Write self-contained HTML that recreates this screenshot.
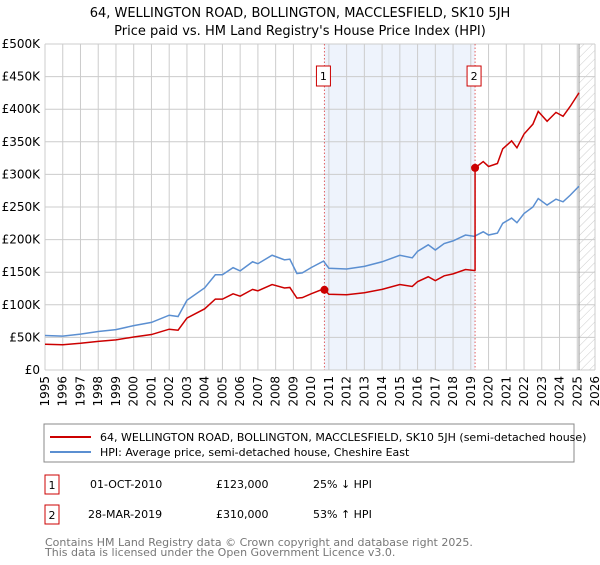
<!DOCTYPE html>
<html><head><meta charset="utf-8"><style>
body{margin:0;width:600px;height:560px;background:#fff;font-family:"Liberation Sans","DejaVu Sans",sans-serif;overflow:hidden}
svg text{font-family:"DejaVu Sans","Liberation Sans",sans-serif}
</style></head><body>
<svg id="c" width="600" height="560">
<defs><pattern id="hatch" width="6" height="6" patternUnits="userSpaceOnUse" patternTransform="rotate(45)"><line x1="0" y1="0" x2="0" y2="6" stroke="#ccc" stroke-width="1"/></pattern></defs>
<text x="300" y="17" text-anchor="middle" font-size="13">64, WELLINGTON ROAD, BOLLINGTON, MACCLESFIELD, SK10 5JH</text>
<text x="300" y="35" text-anchor="middle" font-size="13">Price paid vs. HM Land Registry's House Price Index (HPI)</text>
<g id="grid"></g><g id="marks"></g><g id="axes"></g>
<rect x="44" y="424" width="530" height="38" fill="#fff" stroke="#888"/>
<line x1="50" y1="437" x2="91" y2="437" stroke="#cc0000" stroke-width="2"/>
<text x="100" y="441" font-size="11">64, WELLINGTON ROAD, BOLLINGTON, MACCLESFIELD, SK10 5JH (semi-detached house)</text>
<line x1="50" y1="452" x2="91" y2="452" stroke="#5b8fd1" stroke-width="2"/>
<text x="100" y="456" font-size="11">HPI: Average price, semi-detached house, Cheshire East</text>
<g font-size="11">
<rect x="45" y="475" width="14" height="19" fill="#fff" stroke="#cc0000"/>
<text x="52" y="489" text-anchor="middle">1</text>
<text x="90" y="488">01-OCT-2010</text>
<text x="216" y="488">£123,000</text>
<text x="313" y="488">25% ↓ HPI</text>
<rect x="45" y="505" width="14" height="19" fill="#fff" stroke="#cc0000"/>
<text x="52" y="519" text-anchor="middle">2</text>
<text x="88" y="518">28-MAR-2019</text>
<text x="216" y="518">£310,000</text>
<text x="313" y="518">53% ↑ HPI</text>
</g>
<text x="45" y="546" font-size="11" fill="#777">Contains HM Land Registry data © Crown copyright and database right 2025.</text>
<text x="45" y="556" font-size="11" fill="#777">This data is licensed under the Open Government Licence v3.0.</text>
</svg>
<script>
const hpiYears=[1995,1996,1997,1998,1999,2000,2001,2002,2002.5,2003,2004,2004.6,2005,2005.6,2006,2006.7,2007,2007.8,2008.5,2008.8,2009.2,2009.5,2010,2010.7,2011,2012,2013,2014,2015,2015.7,2016,2016.6,2017,2017.5,2018,2018.7,2019.2,2019.7,2020,2020.5,2020.8,2021.3,2021.6,2022,2022.5,2022.8,2023.3,2023.8,2024.2,2024.6,2025.1];
const hpiValues=[53,52,55,59,62,68,73,84,82,107,126,146,146,157,152,166,163,176,169,170,148,149,157,167,156,155,159,166,176,172,182,192,184,194,198,207,205,212,207,210,225,233,226,240,250,263,253,262,258,268,282];
const saleYears=[2010.75,2019.24];
const salePrices=[123,310];
const saleLabels=["1","2"];
const yTicks=[0,50,100,150,200,250,300,350,400,450,500];
const yTickLabels=["£0","£50K","£100K","£150K","£200K","£250K","£300K","£350K","£400K","£450K","£500K"];
const xTicks=[1995,1996,1997,1998,1999,2000,2001,2002,2003,2004,2005,2006,2007,2008,2009,2010,2011,2012,2013,2014,2015,2016,2017,2018,2019,2020,2021,2022,2023,2024,2025,2026];
const L=45,R=595,T=44,B=370,x0=1995,x1=2026,ymax=500;
const X=v=>L+(v-x0)/(x1-x0)*(R-L), Y=v=>B-v/ymax*(B-T);
const NS="http://www.w3.org/2000/svg";
function mk(p,t,a){const e=document.createElementNS(NS,t);for(const k in a)e.setAttribute(k,a[k]);p.appendChild(e);return e;}
const grid=document.getElementById('grid'),marks=document.getElementById('marks'),axes=document.getElementById('axes');
// shaded region between sales
let sh=mk(grid,'rect',{x:X(saleYears[0]),y:T,width:X(saleYears[1])-X(saleYears[0]),height:B-T,fill:'#eef3fc'});


let hz=mk(grid,'rect',{x:X(2025.1),y:T,width:R-X(2025.1),height:B-T,fill:'url(#hatch)'});


yTicks.forEach((v,i)=>{
 let g=mk(grid,'line',{x1:L,x2:R,y1:Y(v),y2:Y(v),stroke:'#ccc'});
 
 
 let t=mk(axes,'text',{x:40,y:Y(v)+4,'text-anchor':'end','font-size':12});
 t.textContent=yTickLabels[i];
 
 
});
xTicks.forEach(v=>{
 let g=mk(grid,'line',{x1:X(v),x2:X(v),y1:T,y2:B,stroke:'#ccc'});
 
 
 let t=mk(axes,'text',{x:0,y:0,'text-anchor':'end','font-size':12,transform:`translate(${X(v)+4},376) rotate(-90)`});
 t.textContent=v;
 
 
});
let vl=mk(grid,'line',{x1:X(2025.1),x2:X(2025.1),y1:T,y2:B,stroke:'#999'});


function hpiAt(y){for(let i=1;i<hpiYears.length;i++){if(y<=hpiYears[i]){const f=(y-hpiYears[i-1])/(hpiYears[i]-hpiYears[i-1]);return hpiValues[i-1]+f*(hpiValues[i]-hpiValues[i-1]);}}return hpiValues[hpiValues.length-1];}
// sale markers dashed lines
saleYears.forEach((s,i)=>{
 let d=mk(marks,'line',{x1:X(s),x2:X(s),y1:T,y2:B,stroke:'#e06060','stroke-dasharray':'1.5,2'});
 
 
});
let hp=mk(marks,'polyline',{points:hpiYears.map((y,i)=>X(y)+','+Y(hpiValues[i])).join(' '),fill:'none',stroke:'#5b8fd1','stroke-width':1.5});


// property line: HPI indexed to each sale
const r0=salePrices[0]/hpiAt(saleYears[0]),r1=salePrices[1]/hpiAt(saleYears[1]);
let pts=[];
hpiYears.forEach((y,i)=>{if(y<saleYears[1])pts.push([y,hpiValues[i]*r0]);});
pts.push([saleYears[1],hpiAt(saleYears[1])*r0]);
pts.push([saleYears[1],salePrices[1]]);
hpiYears.forEach((y,i)=>{if(y>saleYears[1])pts.push([y,hpiValues[i]*r1]);});
let pl=mk(marks,'polyline',{points:pts.map(p=>X(p[0])+','+Y(p[1])).join(' '),fill:'none',stroke:'#cc0000','stroke-width':1.5});


saleYears.forEach((s,i)=>{
 let c=mk(marks,'circle',{cx:X(s),cy:Y(salePrices[i]),r:4,fill:'#cc0000'});
 
 
 let b=mk(marks,'rect',{x:X(s)-8,y:66,width:14,height:20,fill:'#fff',stroke:'#cc0000'});
 
 
 let t=mk(marks,'text',{x:X(s)-1,y:80,'text-anchor':'middle','font-size':11});
 t.textContent=saleLabels[i];
 
 
});
</script>
</body></html>
